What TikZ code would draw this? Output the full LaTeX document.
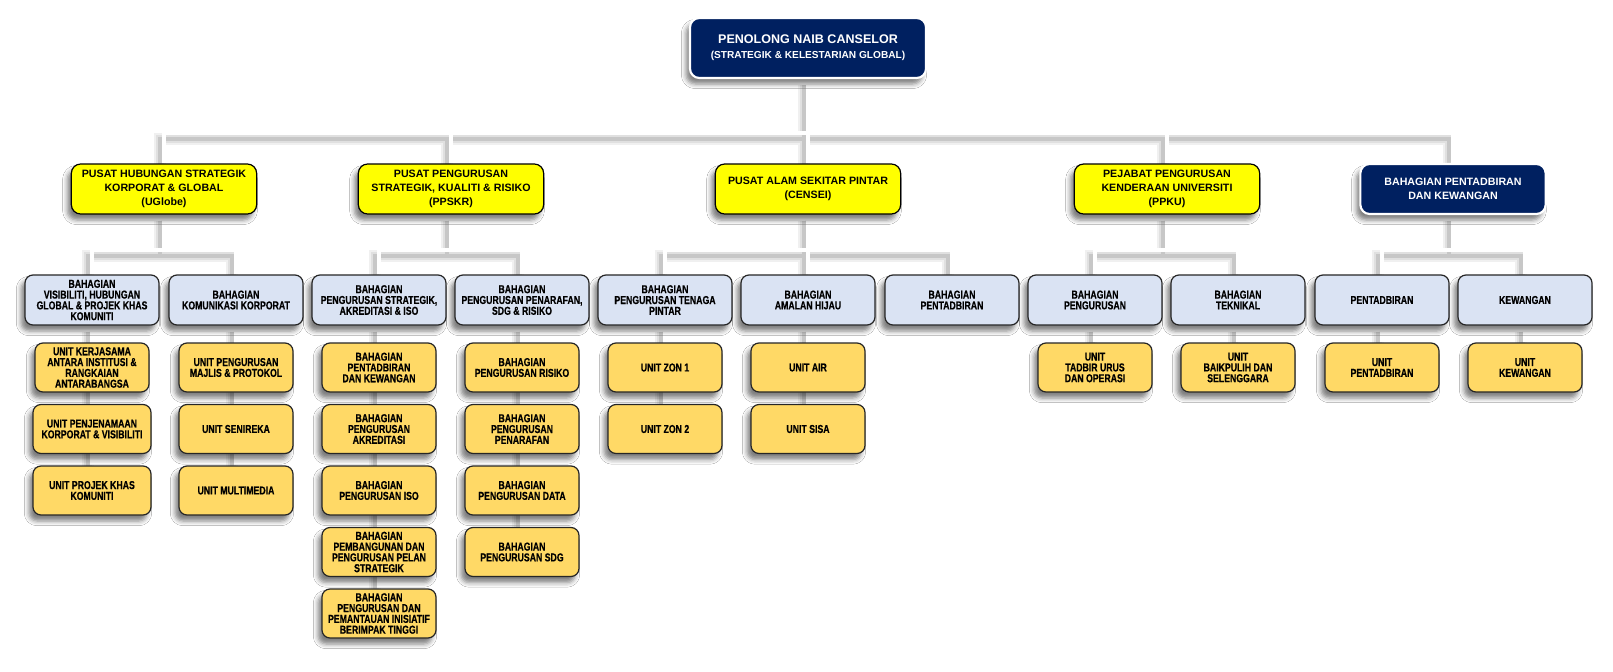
\documentclass[tikz,border=0pt]{standalone}
\usepackage{fontspec}
\setmainfont{Liberation Sans}
\newfontfamily\condfont[FakeStretch=0.76,BoldFeatures={FakeBold=0.5}]{Liberation Sans}
\usetikzlibrary{shadows.blur}
\definecolor{navy}{HTML}{002060}
\definecolor{ylw}{HTML}{FFFF00}
\definecolor{lblue}{HTML}{DAE3F3}
\definecolor{gold}{HTML}{FFD966}
\pgfdeclarelayer{bg}
\pgfsetlayers{bg,main}
\newcommand\orgconn{%
  \draw[cn] (top.south) -- (top.south |- bus) -| (A.north);
  \draw[cn] (top.south) -- (top.south |- bus) -| (B.north);
  \draw[cn] (top.south) -- (C.north);
  \draw[cn] (top.south) -- (top.south |- bus) -| (D.north);
  \draw[cn] (top.south) -- (top.south |- bus) -| (E.north);
  \draw[cn] (A.south) -- (A.south |- sbus) -| (A1.north);
  \draw[cn] (A.south) -- (A.south |- sbus) -| (A2.north);
  \draw[cn] (B.south) -- (B.south |- sbus) -| (B1.north);
  \draw[cn] (B.south) -- (B.south |- sbus) -| (B2.north);
  \draw[cn] (C.south) -- (C.south |- sbus) -| (C1.north);
  \draw[cn] (C.south) -- (C2.north);
  \draw[cn] (C.south) -- (C.south |- sbus) -| (C3.north);
  \draw[cn] (D.south) -- (D.south |- sbus) -| (D1.north);
  \draw[cn] (D.south) -- (D.south |- sbus) -| (D2.north);
  \draw[cn] (E.south) -- (E.south |- sbus) -| (E1.north);
  \draw[cn] (E.south) -- (E.south |- sbus) -| (E2.north);
  \draw[cn] (A1.south) -- (A1c.north);
  \draw[cn] (A2.south) -- (A2c.north);
  \draw[cn] (B1.south) -- (B1e.north);
  \draw[cn] (B2.south) -- (B2d.north);
  \draw[cn] (C1.south) -- (C1b.north);
  \draw[cn] (C2.south) -- (C2b.north);
  \draw[cn] (D1.south) -- (D1a.north);
  \draw[cn] (D2.south) -- (D2a.north);
  \draw[cn] (E1.south) -- (E1a.north);
  \draw[cn] (E2.south) -- (E2a.north);
}
\begin{document}
\begin{tikzpicture}[x=0.75pt,y=-0.75pt,
  nshadow/.style={blur shadow={shadow xshift=-3pt,shadow yshift=-4.5pt,shadow blur radius=3.5pt,shadow opacity=50}},
  topbox/.style={nshadow,fill=navy,draw=white,line width=1.6pt,rounded corners=7pt,
    minimum width=177pt,minimum height=45pt,align=center,text=white,inner sep=0pt},
  lvlone/.style={nshadow,fill=ylw,draw=black,line width=0.9pt,rounded corners=7pt,
    minimum width=139pt,minimum height=37.5pt,align=center,inner sep=0pt,
    font=\bfseries\fontsize{8}{10.6}\selectfont},
  lvlonedark/.style={lvlone,fill=navy,draw=white,line width=1.6pt,text=white},
  lvltwo/.style={nshadow,fill=lblue,draw=black!85,line width=0.9pt,rounded corners=6pt,
    minimum width=100.5pt,minimum height=37.5pt,align=center,inner sep=0pt,
    font=\condfont\bfseries\fontsize{8.6}{8.1}\selectfont},
  lvlthree/.style={nshadow,fill=gold,draw=black!85,line width=0.9pt,rounded corners=6pt,
    minimum width=85.5pt,minimum height=36.75pt,align=center,inner sep=0pt,
    font=\condfont\bfseries\fontsize{8.6}{8.1}\selectfont},
  wide/.style={minimum width=88.5pt}
]
\useasboundingbox (0,0) rectangle (1613,671);
\coordinate (bus) at (0,133);
\coordinate (sbus) at (0,250);

% level 0
\node[topbox] (top) at (808,48) {{\bfseries\fontsize{9.4}{11}\selectfont PENOLONG NAIB CANSELOR}\\[-0.5pt]{\bfseries\fontsize{7.6}{9.5}\selectfont (STRATEGIK \& KELESTARIAN GLOBAL)}};

% level 1
\node[lvlone] (A) at (164,189) {PUSAT HUBUNGAN STRATEGIK\\KORPORAT \& GLOBAL\\(UGlobe)};
\node[lvlone] (B) at (451,189) {PUSAT PENGURUSAN\\STRATEGIK, KUALITI \& RISIKO\\(PPSKR)};
\node[lvlone] (C) at (808,189) {PUSAT ALAM SEKITAR PINTAR\\(CENSEI)};
\node[lvlone] (D) at (1167,189) {PEJABAT PENGURUSAN\\KENDERAAN UNIVERSITI\\(PPKU)};
\node[lvlonedark] (E) at (1453,189) {BAHAGIAN PENTADBIRAN\\DAN KEWANGAN};

% level 2
\node[lvltwo] (A1) at (92,300) {BAHAGIAN\\VISIBILITI, HUBUNGAN\\GLOBAL \& PROJEK KHAS\\KOMUNITI};
\node[lvltwo] (A2) at (236,300) {BAHAGIAN\\KOMUNIKASI KORPORAT};
\node[lvltwo] (B1) at (379,300) {BAHAGIAN\\PENGURUSAN STRATEGIK,\\AKREDITASI \& ISO};
\node[lvltwo] (B2) at (522,300) {BAHAGIAN\\PENGURUSAN PENARAFAN,\\SDG \& RISIKO};
\node[lvltwo] (C1) at (665,300) {BAHAGIAN\\PENGURUSAN TENAGA\\PINTAR};
\node[lvltwo] (C2) at (808,300) {BAHAGIAN\\AMALAN HIJAU};
\node[lvltwo] (C3) at (952,300) {BAHAGIAN\\PENTADBIRAN};
\node[lvltwo] (D1) at (1095,300) {BAHAGIAN\\PENGURUSAN};
\node[lvltwo] (D2) at (1238,300) {BAHAGIAN\\TEKNIKAL};
\node[lvltwo] (E1) at (1382,300) {PENTADBIRAN};
\node[lvltwo] (E2) at (1525,300) {KEWANGAN};

% level 3
\node[lvlthree] (A1a) at (92,367.5) {UNIT KERJASAMA\\ANTARA INSTITUSI \&\\RANGKAIAN\\ANTARABANGSA};
\node[lvlthree,wide] (A1b) at (92,429) {UNIT PENJENAMAAN\\KORPORAT \& VISIBILITI};
\node[lvlthree,wide] (A1c) at (92,490.5) {UNIT PROJEK KHAS\\KOMUNITI};
\node[lvlthree] (A2a) at (236,367.5) {UNIT PENGURUSAN\\MAJLIS \& PROTOKOL};
\node[lvlthree] (A2b) at (236,429) {UNIT SENIREKA};
\node[lvlthree] (A2c) at (236,490.5) {UNIT MULTIMEDIA};

\node[lvlthree] (B1a) at (379,367.5) {BAHAGIAN\\PENTADBIRAN\\DAN KEWANGAN};
\node[lvlthree] (B1b) at (379,429) {BAHAGIAN\\PENGURUSAN\\AKREDITASI};
\node[lvlthree] (B1c) at (379,490.5) {BAHAGIAN\\PENGURUSAN ISO};
\node[lvlthree] (B1d) at (379,552) {BAHAGIAN\\PEMBANGUNAN DAN\\PENGURUSAN PELAN\\STRATEGIK};
\node[lvlthree] (B1e) at (379,613.5) {BAHAGIAN\\PENGURUSAN DAN\\PEMANTAUAN INISIATIF\\BERIMPAK TINGGI};
\node[lvlthree] (B2a) at (522,367.5) {BAHAGIAN\\PENGURUSAN RISIKO};
\node[lvlthree] (B2b) at (522,429) {BAHAGIAN\\PENGURUSAN\\PENARAFAN};
\node[lvlthree] (B2c) at (522,490.5) {BAHAGIAN\\PENGURUSAN DATA};
\node[lvlthree] (B2d) at (522,552) {BAHAGIAN\\PENGURUSAN SDG};

\node[lvlthree] (C1a) at (665,367.5) {UNIT ZON 1};
\node[lvlthree] (C1b) at (665,429) {UNIT ZON 2};
\node[lvlthree] (C2a) at (808,367.5) {UNIT AIR};
\node[lvlthree] (C2b) at (808,429) {UNIT SISA};

\node[lvlthree] (D1a) at (1095,367.5) {UNIT\\TADBIR URUS\\DAN OPERASI};
\node[lvlthree] (D2a) at (1238,367.5) {UNIT\\BAIKPULIH DAN\\SELENGGARA};
\node[lvlthree] (E1a) at (1382,367.5) {UNIT\\PENTADBIRAN};
\node[lvlthree] (E2a) at (1525,367.5) {UNIT\\KEWANGAN};

% connectors
\begin{pgfonlayer}{bg}
  \fill[white] (0,0) rectangle (1613,671);
  \begin{scope}[transform canvas={xshift=-3pt,yshift=-4.5pt}]
    \begin{scope}[cn/.style={line width=9pt,draw=black!6}] \orgconn \end{scope}
    \begin{scope}[cn/.style={line width=6pt,draw=black!12}] \orgconn \end{scope}
    \begin{scope}[cn/.style={line width=3.5pt,draw=black!22}] \orgconn \end{scope}
  \end{scope}
  \begin{scope}[cn/.style={line width=3.2pt,draw=black!20}] \orgconn \end{scope}
  \begin{scope}[cn/.style={line width=2.5pt,draw=white}] \orgconn \end{scope}
\end{pgfonlayer}
\end{tikzpicture}
\end{document}
